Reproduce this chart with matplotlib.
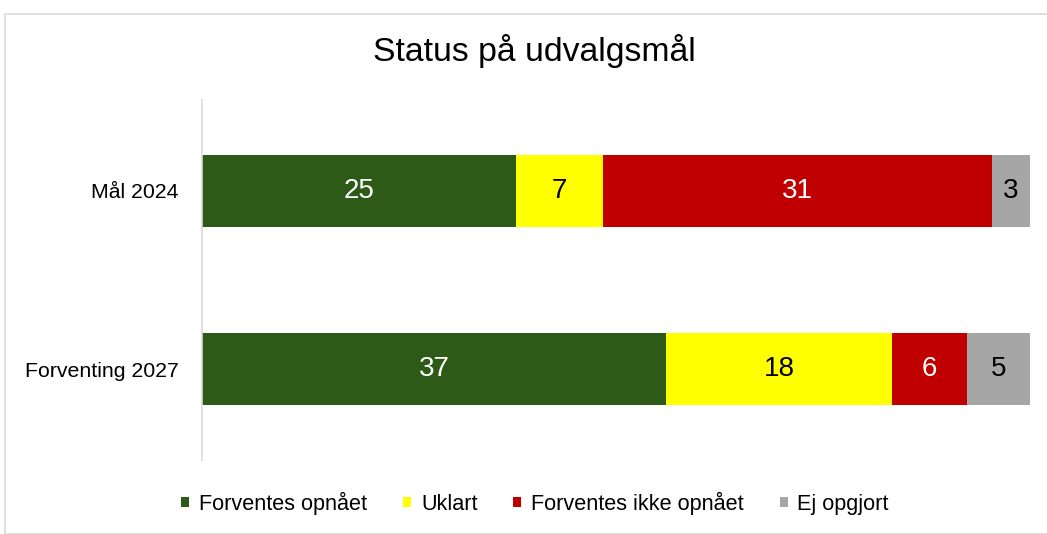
import numpy as np
import matplotlib.pyplot as plt
from matplotlib.patches import Rectangle

plt.rcParams['font.family'] = ['Liberation Sans', 'DejaVu Sans']

# Data
categories = ['Mål 2024', 'Forventing 2027']
series = ['Forventes opnået', 'Uklart', 'Forventes ikke opnået', 'Ej opgjort']
values = {
    'Forventes opnået': [25, 37],
    'Uklart': [7, 18],
    'Forventes ikke opnået': [31, 6],
    'Ej opgjort': [3, 5],
}
colors = ['#2E5A17', '#FFFF00', '#C00000', '#A6A6A6']
text_colors = ['white', 'black', 'white', 'black']

fig = plt.figure(figsize=(10.47, 5.34), dpi=100)
ax = fig.add_axes([0.193, 0.1386, 0.7905, 0.6741])

# outer chart frame
fig.patches.append(Rectangle((5 / 1047, 0), 1.2, 1 - 14 / 534, transform=fig.transFigure,
                             fill=False, edgecolor='#D9D9D9', linewidth=1.2))

y = np.arange(len(categories))
left = np.zeros(len(categories))
for s, c, tc in zip(series, colors, text_colors):
    v = np.array(values[s])
    ax.barh(y, v, left=left, height=0.40, color=c, label=s)
    for yi, (l, vi) in enumerate(zip(left, v)):
        ax.text(l + vi / 2, yi, str(vi), ha='center', va='center',
                color=tc, fontsize=20)
    left += v

ax.set_xlim(0, left.max())
ax.set_ylim(1.51, -0.51)
ax.set_yticks(y)
ax.set_yticklabels(categories, fontsize=15.3)
ax.tick_params(axis='y', length=0, pad=17)
ax.set_xticks([])
for sp in ['top', 'right', 'bottom']:
    ax.spines[sp].set_visible(False)
ax.spines['left'].set_color('#D9D9D9')
ax.spines['left'].set_linewidth(1.2)

fig.text(0.510, 0.905, 'Status på udvalgsmål', ha='center', va='center', fontsize=24.3)

fig.legend(loc='center', bbox_to_anchor=(0.511, 0.058), ncol=4, frameon=False,
           fontsize=15.6, handlelength=0.38, handleheight=0.38, handletextpad=0.45,
           columnspacing=1.65)

fig.savefig('out.png', dpi=100)
